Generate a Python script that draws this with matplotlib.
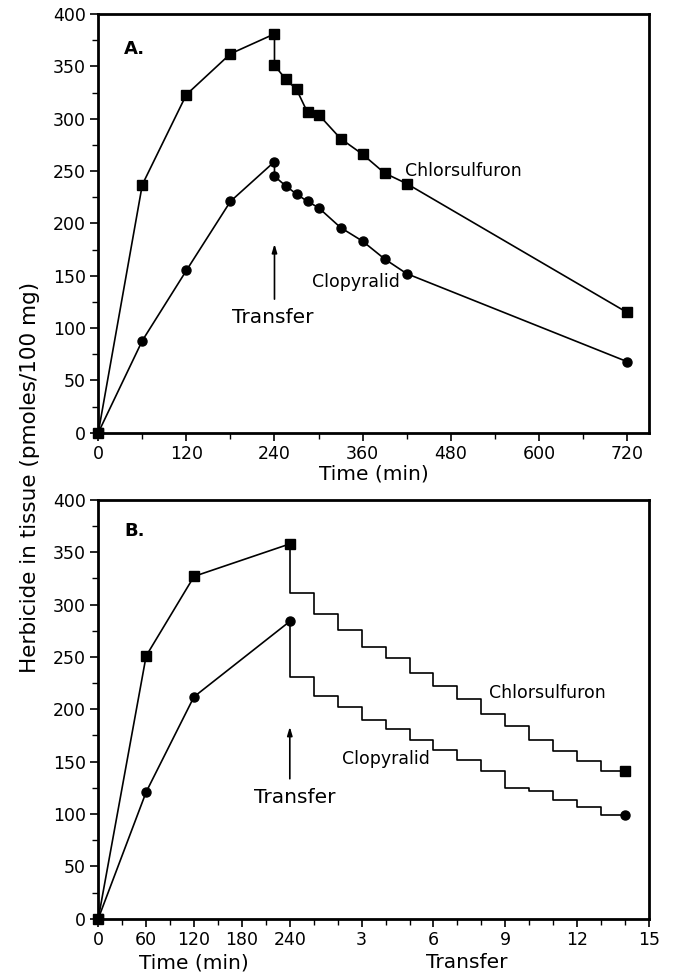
import matplotlib
matplotlib.use("Agg")
import matplotlib.pyplot as plt
from matplotlib.ticker import MultipleLocator, FixedLocator

# ---------------- data ----------------
# Panel A: time (min) and herbicide in tissue (pmoles/100 mg)
time_A = [0, 60, 120, 180, 240, 240, 255, 270, 285, 300, 330, 360, 390, 420, 720]
chlor_A = [0, 237, 323, 362, 381, 351, 338, 328, 306, 304, 281, 266, 248, 238, 115]
clopy_A = [0, 88, 155, 221, 259, 245, 236, 228, 221, 215, 196, 183, 166, 152, 68]

# Panel B: uptake phase (min)
time_B = [0, 60, 120, 240]
chlor_B = [0, 251, 327, 358]
clopy_B = [0, 121, 212, 284]
# Panel B: after each transfer (1..14)
transfers = list(range(1, 15))
chlor_B_transfer = [311, 291, 276, 260, 249, 235, 222, 210, 196, 184, 171, 160, 151, 141]
clopy_B_transfer = [231, 213, 202, 190, 181, 171, 161, 152, 141, 125, 122, 113, 107, 99]

xticks_A = [0, 120, 240, 360, 480, 600, 720]
min_ticks_B = [0, 60, 120, 180, 240]
transfer_ticks_B = [3, 6, 9, 12, 15]
yticks = [0, 50, 100, 150, 200, 250, 300, 350, 400]

# ---------------- style ----------------
plt.rcParams['font.family'] = ['DejaVu Sans']
LW = 1.2
SPW = 2.0
TICK_FS = 12.5
LAB_FS = 14.5
ANN_FS = 12.5

fig = plt.figure(figsize=(6.73, 9.74), dpi=100)
axA = fig.add_axes([0.146, 0.5557, 0.8183, 0.4299])
axB = fig.add_axes([0.146, 0.0568, 0.8183, 0.4299])

def style(ax):
    for s in ax.spines.values():
        s.set_linewidth(SPW)
    ax.tick_params(which='major', direction='out', length=6, width=1.2,
                   labelsize=TICK_FS, pad=3)
    ax.tick_params(which='minor', direction='out', length=4, width=1.0)
    ax.set_ylim(0, 400)
    ax.set_yticks(yticks)
    ax.yaxis.set_minor_locator(MultipleLocator(25))

# ---------------- panel A ----------------
style(axA)
axA.plot(time_A, chlor_A, color='black', lw=LW, marker='s', ms=6.5, zorder=3)
axA.plot(time_A, clopy_A, color='black', lw=LW, marker='o', ms=6.5, zorder=3)
axA.plot(time_A[0], chlor_A[0], 's', color='black', ms=6.5, zorder=4, clip_on=False)
axA.set_xlim(0, 750)
axA.set_xticks(xticks_A)
axA.xaxis.set_minor_locator(MultipleLocator(60))
axA.set_xlabel('Time (min)', fontsize=LAB_FS, labelpad=1)
axA.text(35, 367, 'A.', fontsize=13, fontweight='bold', va='center', ha='left')
axA.text(418, 250, 'Chlorsulfuron', fontsize=ANN_FS, va='center', ha='left')
axA.text(351, 144, 'Clopyralid', fontsize=ANN_FS, va='center', ha='center')
axA.annotate('', xy=(240, 183), xytext=(240, 125),
             arrowprops=dict(arrowstyle='-|>,head_length=0.5,head_width=0.15',
                             color='black', lw=1.2))
axA.text(238, 110, 'Transfer', fontsize=LAB_FS, va='center', ha='center')

# ---------------- panel B ----------------
# x coordinate: minutes/30 for uptake phase, then 8 + transfer number
def u_min(m):
    return m / 30.0

def u_tr(t):
    return 8 + t

style(axB)
uB = [u_min(m) for m in time_B]
axB.plot(uB, chlor_B, color='black', lw=LW, marker='s', ms=6.5, zorder=3)
axB.plot(uB, clopy_B, color='black', lw=LW, marker='o', ms=6.5, zorder=3)
axB.plot(uB[0], chlor_B[0], 's', color='black', ms=6.5, zorder=4, clip_on=False)

ustep = [u_tr(0)] + [u_tr(t) for t in transfers]
axB.step(ustep, [chlor_B[-1]] + chlor_B_transfer, where='pre', color='black', lw=LW)
axB.step(ustep, [clopy_B[-1]] + clopy_B_transfer, where='pre', color='black', lw=LW)
axB.plot(u_tr(transfers[-1]), chlor_B_transfer[-1], 's', color='black', ms=6.5)
axB.plot(u_tr(transfers[-1]), clopy_B_transfer[-1], 'o', color='black', ms=6.5)

axB.set_xlim(0, 23)
major_pos = [u_min(m) for m in min_ticks_B] + [u_tr(t) for t in transfer_ticks_B]
major_lab = [str(m) for m in min_ticks_B] + [str(t) for t in transfer_ticks_B]
axB.xaxis.set_major_locator(FixedLocator(major_pos))
axB.set_xticklabels(major_lab)
axB.xaxis.set_minor_locator(MultipleLocator(1))

axB.text(1.1, 370, 'B.', fontsize=13, fontweight='bold', va='center', ha='left')
axB.text(16.33, 216, 'Chlorsulfuron', fontsize=ANN_FS, va='center', ha='left')
axB.text(10.17, 153, 'Clopyralid', fontsize=ANN_FS, va='center', ha='left')
axB.annotate('', xy=(8, 186), xytext=(8, 131),
             arrowprops=dict(arrowstyle='-|>,head_length=0.5,head_width=0.15',
                             color='black', lw=1.2))
axB.text(8.2, 116, 'Transfer', fontsize=LAB_FS, va='center', ha='center')

# x-axis labels for panel B (two parts), shared baseline
axB.text(4.0, -0.118, 'Time (min)', fontsize=LAB_FS, ha='center', va='baseline',
         transform=axB.get_xaxis_transform())
axB.text(15.4, -0.118, 'Transfer', fontsize=LAB_FS, ha='center', va='baseline',
         transform=axB.get_xaxis_transform())

fig.text(0.045, 0.51, 'Herbicide in tissue (pmoles/100 mg)', rotation=90,
         fontsize=15.5, ha='center', va='center')

fig.savefig('out.png', dpi=100)
